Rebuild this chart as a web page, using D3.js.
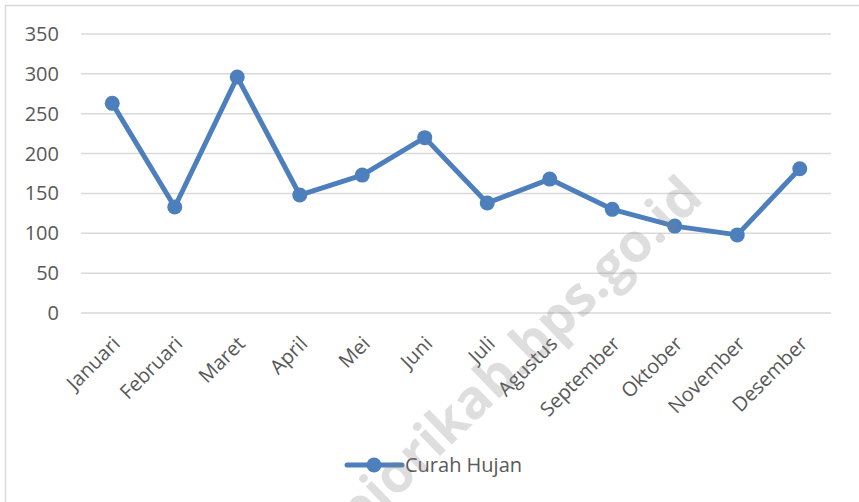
<!DOCTYPE html>
<html>
<head>
<meta charset="utf-8">
<script src="https://cdn.jsdelivr.net/npm/d3@7"></script>
<style>
  html, body { margin: 0; padding: 0; background: #fff; }
  svg { display: block; font-family: "Open Sans", "Noto Sans", sans-serif; }
</style>
</head>
<body>
<div id="chart"></div>
<script>
// data
const months = ['Januari', 'Februari', 'Maret', 'April', 'Mei', 'Juni',
                'Juli', 'Agustus', 'September', 'Oktober', 'November', 'Desember'];
const curahHujan = [263, 133, 296, 148, 173, 220, 138, 168, 130, 109, 98, 181];
const yTicks = [0, 50, 100, 150, 200, 250, 300, 350];
const seriesName = 'Curah Hujan';
const watermark = 'supiorikab.bps.go.id';

const width = 859, height = 502;
const blue = '#4e7fbd';
const textColor = '#595959';

const svg = d3.select('#chart')
  .append('svg')
    .attr('width', width)
    .attr('height', height);

// chart frame (only top & left edges are visible)
svg.append('path')
  .attr('d', `M5.5,${height} V5.5 H${width}`)
  .attr('fill', 'none')
  .attr('stroke', '#d9d9d9')
  .attr('stroke-width', 1.5);

// scales
const x = d3.scalePoint()
  .domain(months)
  .range([81, 831])
  .padding(0.5);

const y = d3.scaleLinear()
  .domain([0, 350])
  .range([313, 34]);

// gridlines
svg.append('g')
  .selectAll('line')
  .data(yTicks)
  .join('line')
    .attr('x1', 81)
    .attr('x2', 831)
    .attr('y1', d => y(d))
    .attr('y2', d => y(d))
    .attr('stroke', '#d9d9d9')
    .attr('stroke-width', 1.5);

// y axis labels
svg.append('g')
  .selectAll('text')
  .data(yTicks)
  .join('text')
    .attr('x', 59)
    .attr('y', d => y(d))
    .attr('dy', '0.35em')
    .attr('text-anchor', 'end')
    .attr('fill', textColor)
    .style('font-size', '20px')
    .text(d => d);

// x axis labels, rotated -45
svg.append('g')
  .selectAll('text')
  .data(months)
  .join('text')
    .attr('text-anchor', 'end')
    .attr('fill', textColor)
    .style('font-size', '20px')
    .attr('transform', d => `translate(${x(d) + 9},${345}) rotate(-45)`)
    .text(d => d);

// line
const line = d3.line()
  .x((d, i) => x(months[i]))
  .y(d => y(d));

svg.append('path')
  .datum(curahHujan)
  .attr('d', line)
  .attr('fill', 'none')
  .attr('stroke', blue)
  .attr('stroke-width', 5)
  .attr('stroke-linejoin', 'round');

// markers
svg.append('g')
  .selectAll('circle')
  .data(curahHujan)
  .join('circle')
    .attr('cx', (d, i) => x(months[i]))
    .attr('cy', d => y(d))
    .attr('r', 7.5)
    .attr('fill', blue);

// legend
const legend = svg.append('g');
legend.append('line')
  .attr('x1', 347).attr('x2', 402)
  .attr('y1', 465).attr('y2', 465)
  .attr('stroke', blue)
  .attr('stroke-width', 5)
  .attr('stroke-linecap', 'round');
legend.append('circle')
  .attr('cx', 374).attr('cy', 465)
  .attr('r', 7.5)
  .attr('fill', blue);
legend.append('text')
  .attr('x', 405)
  .attr('y', 465)
  .attr('dy', '0.35em')
  .attr('fill', textColor)
  .style('font-size', '20px')
  .text(seriesName);

// watermark on top, semi-transparent
svg.append('text')
  .attr('text-anchor', 'end')
  .attr('transform', 'translate(705,200) rotate(-44)')
  .attr('fill', '#808080')
  .attr('fill-opacity', 0.26)
  .style('font-size', '54px')
  .style('font-weight', 'bold')
  .text(watermark);
</script>
</body>
</html>
